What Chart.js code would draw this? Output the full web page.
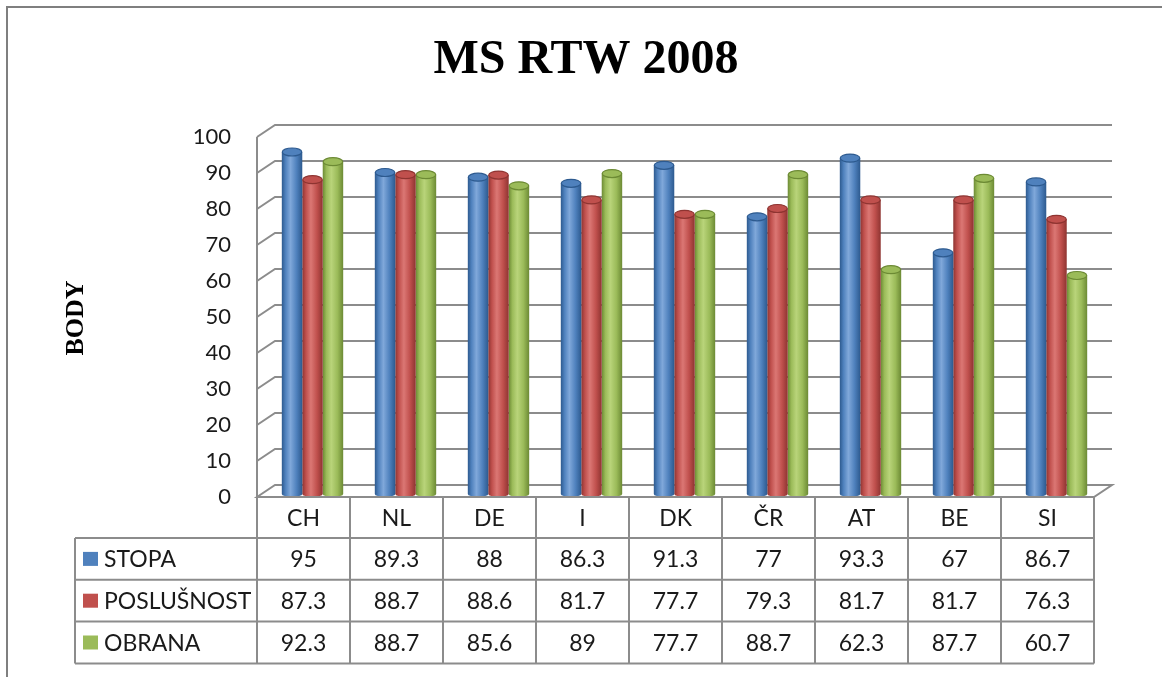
<!DOCTYPE html>
<html><head><meta charset="utf-8">
<script src="https://cdn.jsdelivr.net/npm/chart.js@4.4.1/dist/chart.umd.min.js"></script>
<style>html,body{margin:0;padding:0;background:#fff;}canvas{display:block;}</style>
</head><body>
<canvas id="c" width="1162" height="677"></canvas>
<script>
// ---- data ----
const chartTitle = 'MS RTW 2008';
const yAxisTitle = 'BODY';
const categories = ['CH', 'NL', 'DE', 'I', 'DK', 'ČR', 'AT', 'BE', 'SI'];
const seriesNames = ['STOPA', 'POSLUŠNOST', 'OBRANA'];
const stopa = [95, 89.3, 88, 86.3, 91.3, 77, 93.3, 67, 86.7];
const poslusnost = [87.3, 88.7, 88.6, 81.7, 77.7, 79.3, 81.7, 81.7, 76.3];
const obrana = [92.3, 88.7, 85.6, 89, 77.7, 88.7, 62.3, 87.7, 60.7];
const yMin = 0, yMax = 100, yStep = 10;

// ---- styles ----
const baseColors = ['#4F81BD', '#C0504D', '#9BBB59'];
const darkColors = ['#2D5A8F', '#8E3431', '#6C8A34'];
const lightColors = ['#80A8DA', '#DB7774', '#B9D47A'];
const CAT_PCT = 0.66;
const FRONT_DX = -9, FRONT_DY = 3, BACK_DX = 9, BACK_DY = -9;
const GRID_COLOR = '#8c8c8c';
const TEXT_FONT = 'Lato';

function barGeom(chart, dataIndex, datasetIndex) {
  const xs = chart.scales.x;
  const n = chart.data.labels.length;
  const catW = (xs.right - xs.left) / n;
  const groupW = catW * CAT_PCT;
  const w = groupW / 3;
  const cx = xs.getPixelForValue(dataIndex);
  const x0 = cx - groupW / 2 + w * datasetIndex;
  return { x0, w };
}

function cylGradient(c2d, x0, w, di) {
  if (!isFinite(x0) || !isFinite(w) || w <= 0) return baseColors[di];
  const g = c2d.createLinearGradient(x0, 0, x0 + w, 0);
  g.addColorStop(0, darkColors[di]);
  g.addColorStop(0.18, baseColors[di]);
  g.addColorStop(0.42, lightColors[di]);
  g.addColorStop(0.72, baseColors[di]);
  g.addColorStop(1, darkColors[di]);
  return g;
}

function barFill(ctx) {
  const chart = ctx.chart;
  if (!chart.scales || !chart.scales.x || ctx.dataIndex === undefined) return baseColors[ctx.datasetIndex];
  const { x0, w } = barGeom(chart, ctx.dataIndex, ctx.datasetIndex);
  return cylGradient(chart.ctx, x0, w, ctx.datasetIndex);
}

const frame3d = {
  id: 'frame3d',
  beforeDraw(chart) {
    const c = chart.ctx;
    c.save();
    c.fillStyle = '#fff';
    c.fillRect(0, 0, chart.width, chart.height);
    c.strokeStyle = '#7f7f7f';
    c.lineWidth = 2;
    c.strokeRect(7, 7, chart.width + 20, chart.height + 20);
    c.restore();
  },
  beforeDatasetsDraw(chart) {
    const c = chart.ctx, xs = chart.scales.x, ys = chart.scales.y;
    const L = xs.left + FRONT_DX, R = xs.right + FRONT_DX;
    c.save();
    c.strokeStyle = GRID_COLOR;
    c.lineWidth = 2;
    c.lineJoin = 'miter';
    for (let v = yMin + yStep; v <= yMax; v += yStep) {
      const y = ys.getPixelForValue(v);
      c.beginPath();
      c.moveTo(L, y + FRONT_DY);
      c.lineTo(xs.left + BACK_DX, y + BACK_DY);
      c.lineTo(xs.right + BACK_DX, y + BACK_DY);
      c.stroke();
    }
    const y0 = ys.getPixelForValue(yMin);
    c.beginPath();
    c.moveTo(L, y0 + FRONT_DY);
    c.lineTo(xs.left + BACK_DX, y0 + BACK_DY);
    c.lineTo(xs.right + BACK_DX, y0 + BACK_DY);
    c.lineTo(R, y0 + FRONT_DY);
    c.closePath();
    c.stroke();
    c.beginPath();
    c.moveTo(L, ys.getPixelForValue(yMax) + FRONT_DY);
    c.lineTo(L, y0 + FRONT_DY);
    c.stroke();
    c.restore();
  },
  afterDatasetsDraw(chart) {
    const c = chart.ctx;
    c.save();
    chart.data.datasets.forEach((ds, di) => {
      const meta = chart.getDatasetMeta(di);
      meta.data.forEach((el, i) => {
        const { x0, w } = barGeom(chart, i, di);
        const cx = el.x, top = el.y, base = el.base;
        c.beginPath();
        c.ellipse(cx, base, w / 2, 3, 0, 0, Math.PI);
        c.fillStyle = cylGradient(c, x0, w, di);
        c.fill();
        c.beginPath();
        c.ellipse(cx, top, w / 2 - 0.5, 4, 0, 0, Math.PI * 2);
        c.fillStyle = baseColors[di];
        c.fill();
        c.lineWidth = 1.2;
        c.strokeStyle = darkColors[di];
        c.stroke();
      });
    });
    c.restore();
  },
  afterDraw(chart) {
    const c = chart.ctx, xs = chart.scales.x, ys = chart.scales.y;
    const n = chart.data.labels.length;
    const catW = (xs.right - xs.left) / n;
    const L = xs.left + FRONT_DX, R = xs.right + FRONT_DX;
    const top = ys.getPixelForValue(yMin) + FRONT_DY;
    const headH = 41, rowH = 41.8;
    const legL = 75;
    const rowsY = [top + headH, top + headH + rowH, top + headH + 2 * rowH, top + headH + 3 * rowH];
    c.save();
    c.fillStyle = '#000';
    c.textAlign = 'center';
    c.textBaseline = 'alphabetic';
    c.font = 'bold 48px "Liberation Serif"';
    c.fillText(chartTitle, 586, 73);
    c.save();
    c.translate(76, 318);
    c.rotate(-Math.PI / 2);
    c.font = 'bold 26px "Liberation Serif"';
    c.textBaseline = 'middle';
    c.fillText(yAxisTitle, 0, 0);
    c.restore();
    c.strokeStyle = GRID_COLOR;
    c.lineWidth = 2;
    c.beginPath();
    for (let i = 0; i <= n; i++) {
      const x = L + i * catW;
      c.moveTo(x, top);
      c.lineTo(x, rowsY[3]);
    }
    c.moveTo(legL, rowsY[0]); c.lineTo(legL, rowsY[3]);
    c.moveTo(L, top); c.lineTo(R, top);
    for (let r = 0; r < 4; r++) { c.moveTo(legL, rowsY[r]); c.lineTo(R, rowsY[r]); }
    c.stroke();
    c.fillStyle = '#1a1a1a';
    c.font = '23px ' + TEXT_FONT;
    c.textBaseline = 'middle';
    c.textAlign = 'center';
    categories.forEach((lab, i) => c.fillText(lab, L + catW * (i + 0.5), top + headH / 2 + 1));
    chart.data.datasets.forEach((ds, di) => {
      const yc = rowsY[di] + rowH / 2 + 1;
      c.textAlign = 'center';
      c.fillStyle = '#1a1a1a';
      ds.data.forEach((v, i) => c.fillText(String(v), L + catW * (i + 0.5), yc));
      c.fillStyle = baseColors[di];
      c.fillRect(83, yc - 8, 15, 14);
      c.fillStyle = '#1a1a1a';
      c.textAlign = 'left';
      c.fillText(seriesNames[di], 104, yc);
    });
    c.restore();
  }
};

new Chart(document.getElementById('c'), {
  type: 'bar',
  data: {
    labels: categories,
    datasets: [
      { label: seriesNames[0], data: stopa },
      { label: seriesNames[1], data: poslusnost },
      { label: seriesNames[2], data: obrana }
    ].map(d => Object.assign(d, {
      backgroundColor: barFill,
      borderWidth: 0,
      barPercentage: 1,
      categoryPercentage: CAT_PCT
    }))
  },
  options: {
    responsive: false,
    animation: false,
    events: [],
    layout: { padding: { top: 134, bottom: 183, left: 166, right: 59 } },
    plugins: { legend: { display: false }, title: { display: false }, tooltip: { enabled: false } },
    scales: {
      x: { display: false },
      y: {
        min: yMin, max: yMax,
        grid: { display: false, drawTicks: false },
        border: { display: false },
        afterFit(scale) { scale.width = 100; },
        ticks: {
          stepSize: yStep,
          padding: 35,
          labelOffset: 3,
          color: '#1a1a1a',
          font: { family: TEXT_FONT, size: 22 }
        }
      }
    }
  },
  plugins: [frame3d]
});
</script>
</body></html>
